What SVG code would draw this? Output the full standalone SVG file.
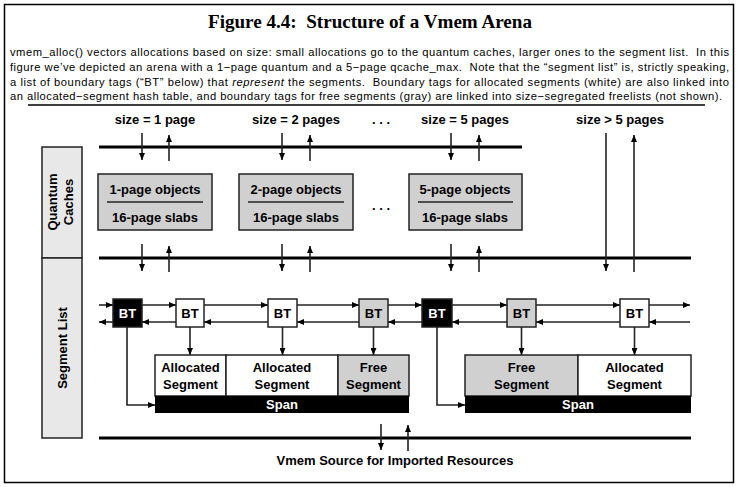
<svg xmlns="http://www.w3.org/2000/svg" width="740" height="487" viewBox="0 0 740 487" xml:space="preserve">
<style>
.t{font-family:"Liberation Sans",Arial,sans-serif;font-weight:bold;font-size:13px;text-anchor:middle;fill:#000}
.w{fill:#fff}
.p{font-family:"Liberation Sans",Arial,sans-serif;font-size:11.2px;fill:#000;white-space:pre}
.bus{stroke:#000;stroke-width:3;fill:none}
.ar{stroke:#222;stroke-width:1.6;fill:none;marker-end:url(#ah)}
.box{stroke:#222;stroke-width:1.5}
</style>
<defs>
<marker id="ah" markerUnits="userSpaceOnUse" markerWidth="8" markerHeight="6" refX="7" refY="3" orient="auto">
<path d="M0,0 L7,3 L0,6 z" fill="#000"/>
</marker>
</defs>
<rect x="0" y="0" width="740" height="487" fill="#fff"/>
<rect x="4.5" y="4.5" width="729" height="478" fill="none" stroke="#000" stroke-width="1.5"/>
<text x="370" y="28" text-anchor="middle" textLength="324" lengthAdjust="spacingAndGlyphs" style="font-family:'Liberation Serif','Times New Roman',serif;font-weight:bold;font-size:19px;white-space:pre">Figure 4.4:  Structure of a Vmem Arena</text>
<g id="caption">
<text class="p" x="10" y="55.5" textLength="719" lengthAdjust="spacing">vmem_alloc() vectors allocations based on size: small allocations go to the quantum caches, larger ones to the segment list.  In this</text>
<text class="p" x="10" y="70.5" textLength="719" lengthAdjust="spacing">figure we’ve depicted an arena with a 1−page quantum and a 5−page qcache_max.  Note that the “segment list” is, strictly speaking,</text>
<text class="p" x="10" y="85.5" textLength="719" lengthAdjust="spacing">a list of boundary tags (“BT” below) that <tspan font-style="italic">represent</tspan> the segments.  Boundary tags for allocated segments (white) are also linked into</text>
<text class="p" x="10" y="100" textLength="712" lengthAdjust="spacing">an allocated−segment hash table, and boundary tags for free segments (gray) are linked into size−segregated freelists (not shown).</text>
<line x1="28" y1="105" x2="705" y2="105" stroke="#000" stroke-width="1.5"/>
</g>
<g id="labels">
<rect x="42" y="147" width="40" height="111" fill="#e8e8e8" class="box"/>
<rect x="42" y="258" width="40" height="180" fill="#e8e8e8" class="box"/>
<text class="t" transform="translate(57,202) rotate(-90)">Quantum</text>
<text class="t" transform="translate(73,202) rotate(-90)">Caches</text>
<text class="t" transform="translate(67,348) rotate(-90)">Segment List</text>
</g>
<g id="sizes">
<text class="t" x="155" y="124">size = 1 page</text>
<text class="t" x="296" y="124">size = 2 pages</text>
<text class="t" x="381" y="124">. . .</text>
<text class="t" x="465" y="124">size = 5 pages</text>
<text class="t" x="620" y="124">size &gt; 5 pages</text>
<text class="t" x="381" y="210">. . .</text>
</g>
<g id="qc1"><rect x="98" y="174" width="114" height="56" fill="#d0d0d0" class="box"/>
<line x1="107" y1="202" x2="203" y2="202" stroke="#222" stroke-width="1.5"/>
<text class="t" x="155" y="194">1-page objects</text><text class="t" x="155" y="222">16-page slabs</text></g>
<g id="qc2"><rect x="239" y="174" width="114" height="56" fill="#d0d0d0" class="box"/>
<line x1="248" y1="202" x2="344" y2="202" stroke="#222" stroke-width="1.5"/>
<text class="t" x="296" y="194">2-page objects</text><text class="t" x="296" y="222">16-page slabs</text></g>
<g id="qc5"><rect x="409" y="174" width="113" height="56" fill="#d0d0d0" class="box"/>
<line x1="418" y1="202" x2="513" y2="202" stroke="#222" stroke-width="1.5"/>
<text class="t" x="465" y="194">5-page objects</text><text class="t" x="465" y="222">16-page slabs</text></g>
<g id="bt0"><rect x="113" y="299" width="29" height="28" fill="#000" class="box"/><text class="t w" x="127.5" y="318">BT</text></g>
<g id="bt1"><rect x="176" y="299" width="28" height="28" fill="#fff" class="box"/><text class="t" x="190" y="318">BT</text></g>
<g id="bt2"><rect x="268" y="299" width="29" height="28" fill="#fff" class="box"/><text class="t" x="282.5" y="318">BT</text></g>
<g id="bt3"><rect x="359" y="299" width="29" height="28" fill="#d0d0d0" class="box"/><text class="t" x="373.5" y="318">BT</text></g>
<g id="bt4"><rect x="422" y="299" width="30" height="28" fill="#000" class="box"/><text class="t w" x="437" y="318">BT</text></g>
<g id="bt5"><rect x="507" y="299" width="29" height="28" fill="#d0d0d0" class="box"/><text class="t" x="521.5" y="318">BT</text></g>
<g id="bt6"><rect x="620" y="299" width="29" height="28" fill="#fff" class="box"/><text class="t" x="634.5" y="318">BT</text></g>
<g id="span1">
<rect x="155" y="355" width="71" height="41" fill="#fff" class="box"/>
<rect x="226" y="355" width="112" height="41" fill="#fff" class="box"/>
<rect x="338" y="355" width="71" height="41" fill="#d0d0d0" class="box"/>
<rect x="155" y="396" width="254" height="17" fill="#000"/>
<text class="t" x="190.5" y="372">Allocated</text><text class="t" x="190.5" y="389">Segment</text>
<text class="t" x="282" y="372">Allocated</text><text class="t" x="282" y="389">Segment</text>
<text class="t" x="373.5" y="372">Free</text><text class="t" x="373.5" y="389">Segment</text>
<text class="t w" x="282" y="409">Span</text>
</g>
<g id="span2">
<rect x="465" y="355" width="113" height="41" fill="#d0d0d0" class="box"/>
<rect x="578" y="355" width="113" height="41" fill="#fff" class="box"/>
<rect x="465" y="396" width="226" height="17" fill="#000"/>
<text class="t" x="521.5" y="372">Free</text><text class="t" x="521.5" y="389">Segment</text>
<text class="t" x="634.5" y="372">Allocated</text><text class="t" x="634.5" y="389">Segment</text>
<text class="t w" x="578" y="409">Span</text>
</g>
<g id="source"><text class="t" x="395" y="465">Vmem Source for Imported Resources</text></g>
<g id="connectors">
<line class="bus" x1="99" y1="147" x2="522" y2="147"/>
<line class="bus" x1="99" y1="258" x2="691" y2="258"/>
<line class="bus" x1="99" y1="438" x2="691" y2="438"/>
<path class="ar" d="M142,133 V160"/><path class="ar" d="M169,161 V135"/>
<path class="ar" d="M282,133 V160"/><path class="ar" d="M310,161 V135"/>
<path class="ar" d="M451,133 V160"/><path class="ar" d="M479,161 V135"/>
<path class="ar" d="M142,244 V271"/><path class="ar" d="M169,272 V246"/>
<path class="ar" d="M282,244 V271"/><path class="ar" d="M310,272 V246"/>
<path class="ar" d="M451,244 V271"/><path class="ar" d="M479,272 V246"/>
<path class="ar" d="M606,133 V271"/><path class="ar" d="M634,272 V135"/>
<path class="ar" d="M381,424 V450"/><path class="ar" d="M408,451 V425"/>
<path class="ar" d="M99,305 H113"/><path class="ar" d="M113,322 H99"/>
<path class="ar" d="M142,305 H176"/><path class="ar" d="M176,322 H142"/>
<path class="ar" d="M204,305 H268"/><path class="ar" d="M268,322 H204"/>
<path class="ar" d="M297,305 H359"/><path class="ar" d="M359,322 H297"/>
<path class="ar" d="M388,305 H422"/><path class="ar" d="M422,322 H388"/>
<path class="ar" d="M452,305 H507"/><path class="ar" d="M507,322 H452"/>
<path class="ar" d="M536,305 H620"/><path class="ar" d="M620,322 H536"/>
<path class="ar" d="M649,305 H690"/><path class="ar" d="M690,322 H649"/>
<path class="ar" d="M190,327 V355"/><path class="ar" d="M282.5,327 V355"/><path class="ar" d="M373.5,327 V355"/>
<path class="ar" d="M521.5,327 V355"/><path class="ar" d="M634.5,327 V355"/>
<path class="ar" d="M127,327 V405 H155"/><path class="ar" d="M437,327 V405 H465"/>
</g>
</svg>
